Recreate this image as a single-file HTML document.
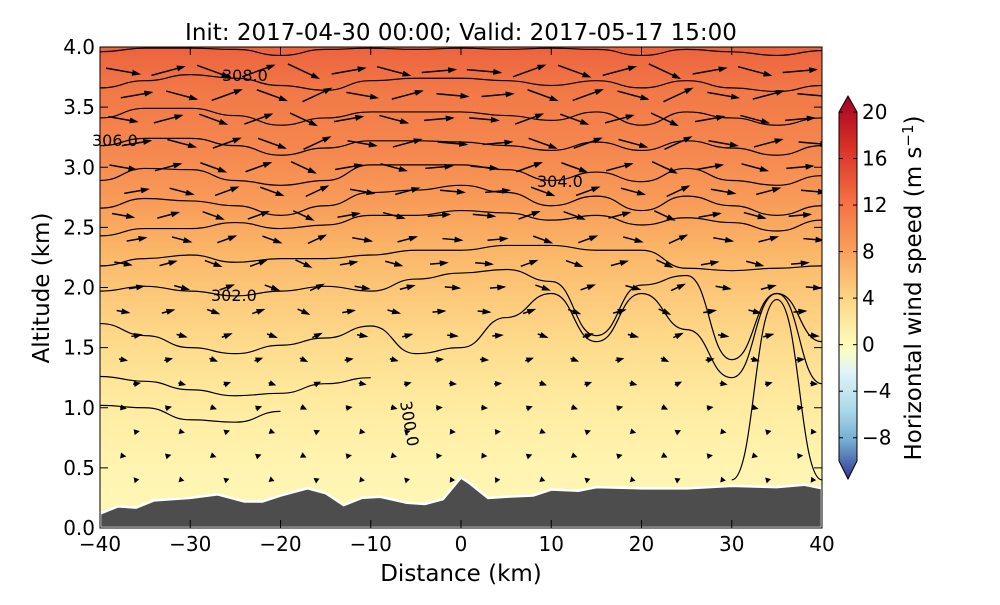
<!DOCTYPE html>
<html><head><meta charset="utf-8"><style>
body{margin:0;background:#fff;}
svg text{font-family:"DejaVu Sans","Liberation Sans",sans-serif;fill:#000;}
</style></head><body>
<svg id="chart" width="1000" height="600" viewBox="0 0 1000 600">
<defs>
<linearGradient id="bg" x1="0" y1="0" x2="0" y2="1">
<stop offset="0" stop-color="#ec633e"/><stop offset="0.1" stop-color="#f27a48"/>
<stop offset="0.22" stop-color="#f5884f"/><stop offset="0.32" stop-color="#f89b58"/>
<stop offset="0.42" stop-color="#fbb567"/><stop offset="0.53" stop-color="#fdcb7c"/>
<stop offset="0.63" stop-color="#fedd8e"/><stop offset="0.74" stop-color="#ffeba0"/>
<stop offset="0.85" stop-color="#fff3ae"/><stop offset="1" stop-color="#fff8ba"/>
</linearGradient>
<linearGradient id="cb" x1="0" y1="0" x2="0" y2="1">
<stop offset="0" stop-color="#a50026"/><stop offset="0.13" stop-color="#d73027"/>
<stop offset="0.27" stop-color="#f46d43"/><stop offset="0.4" stop-color="#fa9e5a"/>
<stop offset="0.53" stop-color="#fdd586"/><stop offset="0.66" stop-color="#ffffbf"/>
<stop offset="0.72" stop-color="#e0f3f8"/><stop offset="0.82" stop-color="#abd9e9"/>
<stop offset="0.9" stop-color="#74add1"/><stop offset="1" stop-color="#313695"/>
</linearGradient>
<clipPath id="clip"><rect x="100" y="47" width="722" height="481"/></clipPath>
</defs>
<text x="461" y="40" font-size="23" text-anchor="middle">Init: 2017-04-30 00:00; Valid: 2017-05-17 15:00</text>
<rect x="100" y="47" width="722" height="481" fill="url(#bg)"/>
<g id="contours" clip-path="url(#clip)"></g>
<g id="arrows" clip-path="url(#clip)"></g>
<g id="terrain" clip-path="url(#clip)"></g>
<g font-size="16">
<text x="222" y="81">308.0</text>
<text x="92" y="146">306.0</text>
<text x="537" y="187">304.0</text>
<text x="211" y="301">302.0</text>
<text x="400" y="402" transform="rotate(80 400 402)">300.0</text>
</g>
<rect x="100" y="47" width="722" height="481" fill="none" stroke="#000" stroke-width="1"/>
<g id="axes"></g>
<text x="461" y="581" font-size="23" text-anchor="middle">Distance (km)</text>
<text x="49" y="288" font-size="23" text-anchor="middle" transform="rotate(-90 49 288)">Altitude (km)</text>
<g>
<polygon points="839,112 848,96 857,112 857,461 848,479 839,461" fill="url(#cb)" stroke="#000" stroke-width="1"/>
<g id="cbticks"></g>
<text x="921" y="288" font-size="23" text-anchor="middle" transform="rotate(-90 921 288)">Horizontal wind speed (m s<tspan dy="-8" font-size="15">−1</tspan><tspan dy="8">)</tspan></text>
</g>
</svg>
<script>
const NS="http://www.w3.org/2000/svg";
const xTicks=[-40,-30,-20,-10,0,10,20,30,40];
const yTicks=[0.0,0.5,1.0,1.5,2.0,2.5,3.0,3.5,4.0];
const cbTicks=[20,16,12,8,4,0,-4,-8];
const dist=[-40,-35,-30,-25,-20,-15,-10,-5,0,5,10,15,20,25,30,35,40];
const terrainX=[-40,-38,-36,-34,-30,-27,-24,-22,-20,-17,-15,-13,-11,-9,-6,-4,-2,0,1,3,5,8,10,13,15,20,25,30,35,38,40];
const terrainZ=[0.12,0.18,0.17,0.23,0.25,0.28,0.22,0.22,0.27,0.33,0.29,0.19,0.25,0.26,0.21,0.2,0.24,0.42,0.37,0.25,0.26,0.27,0.32,0.31,0.34,0.33,0.33,0.35,0.34,0.36,0.33];
const c1=[3.96,3.99,3.99,3.98,3.93,3.98,3.99,3.98,3.99,3.98,3.99,3.98,3.93,3.98,3.96,3.93,3.97];
const c2=[3.66,3.72,3.77,3.74,3.68,3.64,3.72,3.74,3.74,3.72,3.68,3.72,3.66,3.72,3.66,3.63,3.68];
const c3=[3.41,3.49,3.49,3.43,3.35,3.41,3.46,3.46,3.46,3.43,3.39,3.46,3.35,3.46,3.41,3.35,3.41];
const c4=[3.18,3.24,3.24,3.18,3.1,3.16,3.22,3.22,3.21,3.18,3.14,3.21,3.14,3.22,3.16,3.1,3.18];
const c5=[2.89,2.99,2.98,2.89,2.85,2.89,3.02,3.02,3.02,2.98,2.89,2.96,2.88,2.99,2.89,2.85,2.93];
const c6=[2.66,2.74,2.72,2.68,2.6,2.68,2.79,2.81,2.85,2.79,2.68,2.76,2.64,2.76,2.68,2.6,2.68];
const c7=[2.43,2.49,2.49,2.54,2.49,2.52,2.6,2.6,2.64,2.62,2.56,2.6,2.52,2.58,2.54,2.47,2.56];
const c8=[2.18,2.24,2.27,2.21,2.24,2.24,2.27,2.31,2.31,2.35,2.35,2.31,2.31,2.16,2.14,2.16,2.18];
const c9=[1.97,2.01,1.97,1.93,1.97,2.01,1.97,2.07,2.12,2.15,2.05,1.6,2.02,2.1,1.4,1.95,1.55];
const c10=[1.7,1.6,1.5,1.45,1.52,1.58,1.68,1.45,1.5,1.75,1.95,1.55,1.95,1.65,1.25,1.95,1.2];
const c11=[1.26,1.22,1.15,1.1,1.12,1.2,1.25,null,null,null,null,null,null,null,null,null,null];
const c12=[1.02,1.0,0.9,0.88,0.97,null,null,null,null,null,null,null,null,null,null,null,null];
const c13=[null,null,null,null,null,null,null,null,null,null,null,null,null,null,0.4,1.9,0.4];
const contourSets=[c1,c2,c3,c4,c5,c6,c7,c8,c9,c10,c11,c12,c13];
const vecRowsZ=[3.8,3.6,3.4,3.2,3.0,2.8,2.6,2.4,2.2,2.0,1.8,1.6,1.4,1.2,1.0,0.8,0.6,0.4];
const vecRowSpeed=[14,13,12,12,11,10,9,8,7,6,5,4,3,2.5,2,1.5,1.5,1];
const vecColAngle=[10,-15,20,-20,25,-10,15,-5,5,-20,20,-15,25,-10,15,-5];
const sx=d=>100+(d+40)*722/80;
const sy=z=>528-z*481/4;
const cy=v=>112+(20-v)*(349/30);
function mk(tag,attrs,parent){const e=document.createElementNS(NS,tag);for(const k in attrs)e.setAttribute(k,attrs[k]);parent.appendChild(e);return e;}
const axes=document.getElementById('axes');
xTicks.forEach(t=>{
  const l=mk('line',{x1:sx(t),x2:sx(t),y1:528,y2:520,stroke:'#000'},axes);
  
  mk('line',{x1:sx(t),x2:sx(t),y1:47,y2:55,stroke:'#000'},axes);
  const tx=mk('text',{x:sx(t),y:551,'font-size':20,'text-anchor':'middle'},axes);
  tx.textContent=t<0?'−'+(-t):String(t);
  
});
yTicks.forEach(t=>{
  const l=mk('line',{x1:100,x2:108,y1:sy(t),y2:sy(t),stroke:'#000'},axes);
  
  mk('line',{x1:814,x2:822,y1:sy(t),y2:sy(t),stroke:'#000'},axes);
  const tx=mk('text',{x:95,y:sy(t)+7,'font-size':20,'text-anchor':'end'},axes);
  tx.textContent=t.toFixed(1);
  
});
const cbt=document.getElementById('cbticks');
cbTicks.forEach(t=>{
  mk('line',{x1:839,x2:843,y1:cy(t),y2:cy(t),stroke:'#000'},cbt);
  mk('line',{x1:853,x2:857,y1:cy(t),y2:cy(t),stroke:'#000'},cbt);
  const tx=mk('text',{x:862,y:cy(t)+7,'font-size':20},cbt);
  tx.textContent=t<0?'−'+(-t):String(t);
  
});
const cg=document.getElementById('contours');
contourSets.forEach((arr,i)=>{
  let d='';let prev=null;
  arr.forEach((z,j)=>{
    if(z===null){prev=null;return;}
    const x=sx(dist[j]),y=sy(z);
    if(prev===null)d+=' M'+x+','+y;
    else{const mx=(prev[0]+x)/2;d+=' C'+mx+','+prev[1]+' '+mx+','+y+' '+x+','+y;}
    prev=[x,y];
  });
  const p=mk('path',{d:d.trim(),fill:'none',stroke:'#000','stroke-width':1.2},cg);
  
});
const ag=document.getElementById('arrows');
vecRowsZ.forEach((z,r)=>{
  vecColAngle.forEach((a,c)=>{
    const d=-37.5+c*5+(r%2?1.5:0);
    const x=sx(d),y=sy(z);
    const L=vecRowSpeed[r]*2.4;
    const ang=a*Math.PI/180*(r%2?-1:1);
    const dx=L*Math.cos(ang),dy=L*Math.sin(ang);
    const g=mk('g',{},ag);
    
    mk('line',{x1:x-dx/2,y1:y-dy/2,x2:x+dx/2,y2:y+dy/2,stroke:'#000','stroke-width':1.5},g);
    const hx=x+dx/2,hy=y+dy/2,ux=Math.cos(ang),uy=Math.sin(ang),h=Math.min(7,L*0.5+2);
    mk('polygon',{points:`${hx+ux*2},${hy+uy*2} ${hx-ux*h-uy*3},${hy-uy*h+ux*3} ${hx-ux*h+uy*3},${hy-uy*h-ux*3}`,fill:'#000'},g);
  });
});
const tg=document.getElementById('terrain');
let tp='M100,528';
terrainX.forEach((d,i)=>{tp+=' L'+sx(d)+','+sy(terrainZ[i]);});
tp+=' L822,528 Z';
const tpath=mk('path',{d:tp,fill:'#4d4d4d',stroke:'#fff','stroke-width':2.5},tg);

</script>
</body></html>
